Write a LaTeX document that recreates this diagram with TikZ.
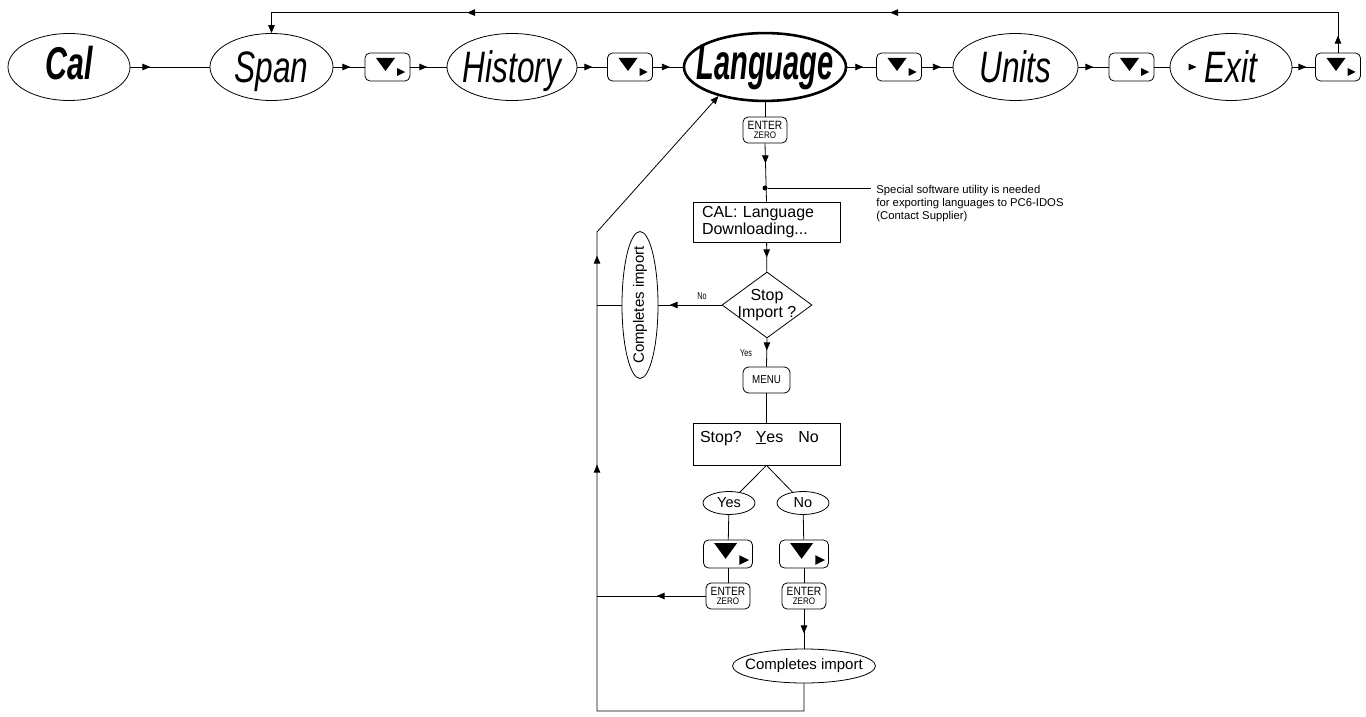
\documentclass[tikz,border=0pt]{standalone}
\usepackage{fontspec}
\setmainfont{Liberation Sans}
\newfontfamily\condfont[FakeStretch=0.72]{Liberation Sans}
\newfontfamily\calfont[FakeStretch=0.66]{Liberation Sans}
\newfontfamily\langfont[FakeStretch=0.58]{Liberation Sans}
\newfontfamily\keyfont[FakeStretch=0.85]{Liberation Sans}
\usetikzlibrary{arrows.meta,shapes.geometric,decorations.markings}
\newcommand{\zw}[1]{\makebox[0pt]{#1}}

\begin{document}
\begin{tikzpicture}[
  x=1pt,y=-1pt,
  line width=0.8pt,
  >={Triangle[length=8pt,width=6.5pt]},
  flow/.style={postaction={decorate,decoration={markings,mark=at position #1 with {\arrow{>}}}}},
  flow/.default=17pt,
  menu/.style={ellipse,draw,inner sep=0pt,minimum width=#1,minimum height=67pt,
    text height=32pt,text depth=0pt,font=\condfont\fontsize{44}{44}\selectfont\itshape},
  navkey/.style={draw,rounded corners=5pt,minimum width=45pt,minimum height=28pt,inner sep=0pt,
    path picture={\begin{scope}[sharp corners,shift={(path picture bounding box.center)},x=#1pt,y=#1pt]
      \fill (-11.5,9) -- (7.5,9) -- (-2,-4) -- cycle;
      \fill (9.5,-1) -- (17.5,-5) -- (9.5,-9) -- cycle;
    \end{scope}}},
  navkey/.default=1,
  enterkey/.style={draw,rounded corners=5pt,minimum width=44pt,minimum height=26pt,inner sep=0pt,
    align=center,font=\keyfont\fontsize{12}{9.5}\selectfont},
  keycap/.style={draw,rounded corners=6pt,minimum width=47pt,minimum height=26pt,inner sep=0pt,
    font=\keyfont\fontsize{11.5}{11.5}\selectfont},
  box/.style={draw,minimum width=147pt,minimum height=40pt,text width=129pt,inner xsep=9pt,
    inner ysep=0pt,align=left,font=\fontsize{16}{17}\selectfont},
  decision/.style={diamond,draw,minimum width=90pt,minimum height=66pt,inner sep=0pt,
    align=center,font=\fontsize{16}{17}\selectfont},
  choice/.style={ellipse,draw,minimum width=52pt,minimum height=23pt,inner sep=0pt,
    font=\fontsize{14.5}{14.5}\selectfont},
  result/.style={ellipse,draw,inner sep=0pt,font=\fontsize{15}{15}\selectfont},
  tag/.style={inner sep=0pt,font=\condfont\fontsize{10}{10}\selectfont},
  dot/.style={circle,fill,inner sep=0pt,minimum size=5pt}
]
\useasboundingbox (0,0) rectangle (1366,717);

% main menu row
\node[menu=122pt,text height=33pt,text depth=7pt,font=\calfont\fontsize{46}{46}\selectfont\bfseries\itshape] (cal) at (69,67) {\zw{Cal}};
\node[menu=123pt] (span) at (271.5,67) {\zw{Span}};
\node[navkey] (k1) at (387.5,67) {};
\node[menu=130pt] (hist) at (512,67) {\zw{History}};
\node[navkey] (k2) at (630,67) {};
\node[menu=162pt,line width=2.6pt,text height=37pt,text depth=11pt,font=\langfont\fontsize{50}{50}\selectfont\bfseries\itshape] (lang) at (765,67) {\zw{Language}};
\node[navkey] (k3) at (899,67) {};
\node[menu=125pt] (units) at (1015.5,67) {\zw{Units}};
\node[navkey] (k4) at (1131.5,67) {};
\node[menu=122pt] (exit) at (1231,67) {\zw{Exit}};
\node[navkey] (k5) at (1338,67) {};

\draw[flow=20pt] (cal) -- (span);
\draw[flow] (span) -- (k1);
\draw[flow] (k1) -- (hist);
\draw[flow=15pt] (hist) -- (k2);
\draw[flow] (k2) -- (lang);
\draw[flow=16pt] (lang) -- (k3);
\draw[flow=19pt] (k3) -- (units);
\draw[flow=15pt] (units) -- (k4);
\draw (k4) -- (exit);
\path[flow=27pt] (exit.west) -- (exit.center);
\draw[flow=14pt] (exit) -- (k5);
\draw[flow=17pt,flow=488pt,flow=911pt,->] (k5.north) -- ++(0,-40) -| (span.north);

% language download
\node[enterkey] (ez) at (765,130) {ENTER\\{\fontsize{9.5}{9.5}\selectfont ZERO}};
\node[dot] (dot) at (765,188) {};
\node[anchor=north west,inner xsep=5pt,inner ysep=0pt,align=left,font=\fontsize{11.3}{13}\selectfont] (note) at (871,185)
  {Special software utility is needed\\for exporting languages to PC6-IDOS\\(Contact Supplier)};
\node[box] (dl) at (766.5,222) {CAL: Language\\Downloading...};
\node[decision] (stopq) at (767,305) {\zw{Stop}\\\zw{Import ?}};
\node[result,rotate=90,minimum width=147pt,minimum height=36pt] (side) at (640,305) {\zw{Completes import}};
\node[tag] (nolab) at (702,296) {No};
\node[tag] (yeslab) at (746,353) {Yes};
\node[keycap] (mk) at (766.5,380) {MENU};
\node[box,minimum height=42pt,text height=15pt,text depth=19pt,inner ysep=4pt,inner xsep=7pt,text width=133pt] (stopbox) at (766.5,444)
  {Stop?\hspace{14pt}\underline{Y}es\hspace{15pt}No};
\node[choice] (yes) at (729,503) {Yes};
\node[choice] (no) at (803,503) {No};
\node[navkey=1.2,minimum width=49pt] (ky) at (728,554) {};
\node[navkey=1.2,minimum width=49pt] (kn) at (804,554) {};
\node[enterkey] (ey) at (728,596) {ENTER\\{\fontsize{9.5}{9.5}\selectfont ZERO}};
\node[enterkey] (en) at (804,596) {ENTER\\{\fontsize{9.5}{9.5}\selectfont ZERO}};
\node[result,minimum width=143pt,minimum height=34pt] (done) at (804,666) {\zw{Completes import}};
\coordinate (loopbot) at (597,711);
\coordinate (looptop) at (597,232);

\draw (lang.south) -- (ez.north);
\draw[flow=20pt] (ez.south) -- (dl.north);
\draw (dot) -- (dot -| note.west);
\draw[flow=15pt] (dl) -- (stopq);
\draw[flow=52pt] (stopq.west) -- (side.south);
\draw (side.north) -- (side.north -| looptop);
\draw[flow=12pt] (stopq.south) -- (mk.north);
\draw (mk) -- (stopbox);
\draw (stopbox.south) -- (yes);
\draw (stopbox.south) -- (no);
\draw (yes) -- (ky);
\draw (ky) -- (ey);
\draw (no) -- (kn);
\draw (kn) -- (en);
\draw[flow=49pt] (ey.west) -- (ey.west -| looptop);
\draw[flow=24pt] (en) -- (done);
\draw[flow=481pt,flow=690pt,->] (done.south) |- (loopbot) -- (looptop) -- (lang.212);
\end{tikzpicture}
\end{document}
